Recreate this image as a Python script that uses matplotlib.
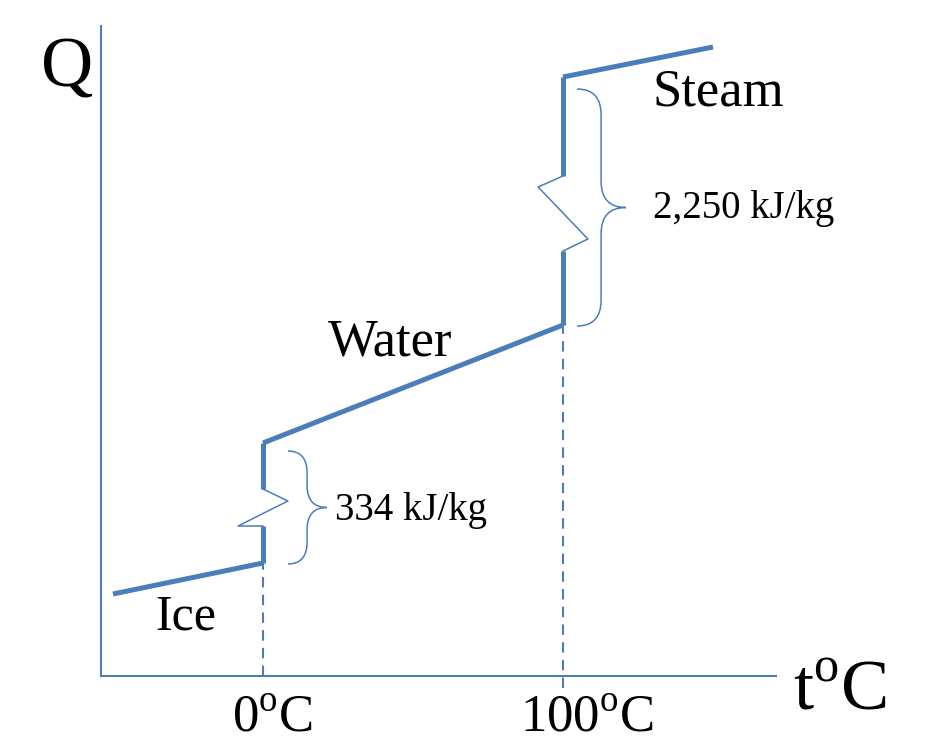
import matplotlib.pyplot as plt
from matplotlib.path import Path
from matplotlib.patches import PathPatch

plt.rcParams['font.family'] = ['Liberation Serif', 'DejaVu Serif']
plt.rcParams['mathtext.fontset'] = 'custom'
plt.rcParams['mathtext.rm'] = 'Liberation Serif'

blue = '#4a7ebb'

# heating curve data (t in deg C, Q in arbitrary units)
ice_t = [-50, 0]
ice_q = [82, 113]
water_t = [0, 100]
water_q = [233, 351]
steam_t = [100, 150]
steam_q = [599, 629]

# phase change segments (with break symbols)
melt_low = [113, 150]
melt_break_t = [0, -8.3, 8.3, 0]
melt_break_q = [150, 150, 175, 187]
melt_high = [187, 233]

boil_low = [351, 425]
boil_break_t = [100, 108.3, 91.7, 100]
boil_break_q = [425, 437, 489, 500]
boil_high = [500, 599]

fig = plt.figure(figsize=(9.25, 7.53), dpi=100)
ax = fig.add_axes([101 / 925, 77 / 753, 675 / 925, 650 / 753])
ax.set_xlim(-54, 171)
ax.set_ylim(0, 650)
for s in ['top', 'right']:
    ax.spines[s].set_visible(False)
for s in ['left', 'bottom']:
    ax.spines[s].set_color(blue)
    ax.spines[s].set_linewidth(1.5)
ax.set_xticks([])
ax.set_yticks([])

lw = 3.6
ax.plot(ice_t, ice_q, color=blue, lw=lw, solid_capstyle='butt', clip_on=False)
ax.plot(water_t, water_q, color=blue, lw=lw, solid_capstyle='butt', clip_on=False)
ax.plot(steam_t, steam_q, color=blue, lw=lw, solid_capstyle='butt', clip_on=False)
ax.plot([0, 0], melt_low, color=blue, lw=lw, solid_capstyle='butt')
ax.plot([0, 0], melt_high, color=blue, lw=lw, solid_capstyle='butt')
ax.plot(melt_break_t, melt_break_q, color=blue, lw=1.1)
ax.plot([100, 100], boil_low, color=blue, lw=lw, solid_capstyle='butt')
ax.plot([100, 100], boil_high, color=blue, lw=lw, solid_capstyle='butt')
ax.plot(boil_break_t, boil_break_q, color=blue, lw=1.1)

# dashed guides
ax.plot([0, 0], [0, ice_q[1]], color=blue, lw=1.5, ls=(0, (5, 3.5)))
ax.plot([100, 100], [-12, water_q[1]], color=blue, lw=1.5, ls=(0, (5, 3.5)),
        clip_on=False)


def brace(x0, x1, x2, top, bot, r):
    mid = (top + bot) / 2
    verts = [(x0, top), (x1, top), (x1, top - r),
             (x1, mid + r), (x1, mid), (x2, mid),
             (x1, mid), (x1, mid - r),
             (x1, bot + r), (x1, bot), (x0, bot)]
    codes = [Path.MOVETO, Path.CURVE3, Path.CURVE3,
             Path.LINETO, Path.CURVE3, Path.CURVE3,
             Path.CURVE3, Path.CURVE3,
             Path.LINETO, Path.CURVE3, Path.CURVE3]
    ax.add_patch(PathPatch(Path(verts, codes), fill=False, ec=blue, lw=1.1,
                           clip_on=False))


brace(8.3, 14.7, 21.3, 225, 112, 22)
brace(104.7, 112.7, 121, 587, 350, 26)

ax.text(-74, 590, 'Q', fontsize=52, clip_on=False)
ax.text(176.7, -34, r't$^{\mathrm{o}}$C', fontsize=52, clip_on=False)
ax.text(-10.3, -55, r'0$^{\mathrm{o}}$C', fontsize=38, clip_on=False)
ax.text(85.7, -55, r'100$^{\mathrm{o}}$C', fontsize=38, clip_on=False)
ax.text(-36, 46, 'Ice', fontsize=36)
ax.text(21.7, 321, 'Water', fontsize=38)
ax.text(130, 571, 'Steam', fontsize=38, clip_on=False)
ax.text(24, 156, '334 kJ/kg', fontsize=28)
ax.text(130, 458, '2,250 kJ/kg', fontsize=28, clip_on=False)

fig.savefig('out.png', dpi=100)
